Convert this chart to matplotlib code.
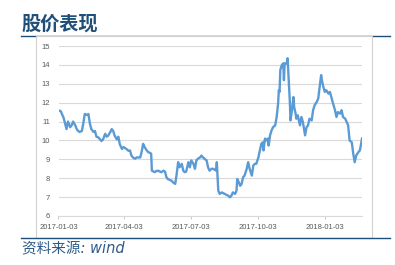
import matplotlib
matplotlib.use("Agg")
import matplotlib.pyplot as plt
import matplotlib.dates as mdates
import pandas as pd
from matplotlib.patches import Rectangle
from matplotlib.lines import Line2D

# ---- data ----
start_date = "2017-01-03"
day_offsets = [0, 3, 7, 9, 11, 13, 16, 18, 20, 23, 25, 27, 29, 32, 34, 36, 39, 41, 43, 45,
               48, 50, 52, 55, 57, 59, 61, 64, 66, 68, 71, 73, 75, 77, 80, 82, 84, 87, 89, 91,
               93, 96, 98, 100, 102, 105, 107, 109, 112, 114, 116, 118, 121, 123, 125, 127, 128, 132, 134, 137,
               139, 141, 144, 146, 148, 150, 153, 155, 157, 160, 162, 164, 166, 169, 171, 173, 175, 178, 180, 182,
               185, 187, 189, 191, 194, 196, 198, 201, 203, 205, 207, 210, 212, 214, 216, 217, 219, 221, 224, 226,
               228, 230, 233, 235, 237, 239, 242, 244, 245, 247, 249, 251, 253, 255, 258, 260, 262, 265, 267, 269,
               271, 274, 276, 278, 280, 281, 283, 285, 287, 288, 290, 292, 294, 297, 299, 301, 302, 303, 304, 306,
               308, 309, 310, 313, 314, 317, 318, 320, 322, 323, 325, 326, 328, 331, 333, 335, 338, 340, 342, 344,
               347, 349, 351, 354, 356, 358, 360, 361, 363, 365, 367, 370, 372, 374, 376, 379, 381, 383, 386, 388,
               390, 393, 395, 397, 399, 402, 404, 406, 408, 411, 413, 414, 416]
prices = [11.6, 11.55, 11.2, 10.9, 10.6, 11.0, 10.7, 10.8, 11.0, 10.8, 10.6, 10.5, 10.45, 10.5, 10.9, 11.4, 11.35, 11.4, 10.9, 10.6,
          10.45, 10.5, 10.2, 10.15, 10.05, 9.97, 10.05, 10.35, 10.2, 10.25, 10.45, 10.6, 10.5, 10.25, 10.05, 10.2, 9.8, 9.55, 9.65, 9.6,
          9.55, 9.45, 9.47, 9.2, 9.1, 9.03, 9.1, 9.1, 9.1, 9.4, 9.82, 9.65, 9.47, 9.38, 9.35, 9.3, 8.4, 8.32, 8.38, 8.4,
          8.35, 8.32, 8.4, 8.35, 8.05, 7.95, 7.9, 7.87, 7.78, 7.7, 8.23, 8.85, 8.58, 8.76, 8.4, 8.32, 8.35, 8.85, 8.58, 8.94,
          8.76, 8.5, 8.94, 9.03, 9.1, 9.2, 9.1, 9.0, 8.94, 8.58, 8.4, 8.5, 8.5, 8.45, 8.4, 8.85, 7.34, 7.17, 7.25, 7.2,
          7.17, 7.12, 7.07, 6.99, 7.07, 7.25, 7.17, 7.34, 7.96, 7.8, 7.6, 7.7, 8.05, 8.14, 8.5, 8.85, 8.5, 8.14, 8.67, 8.76,
          8.76, 9.1, 9.47, 9.82, 9.9, 9.47, 10.1, 10.0, 10.1, 9.73, 10.27, 10.53, 10.7, 10.8, 11.24, 11.95, 12.66, 12.57, 13.72, 13.99,
          14.08, 13.19, 14.08, 14.08, 14.35, 12.13, 11.06, 11.6, 12.3, 11.77, 11.42, 11.15, 11.33, 10.8, 11.24, 10.97, 10.27, 10.7, 10.8, 11.15,
          11.06, 11.6, 11.86, 12.04, 12.22, 12.84, 13.46, 13.19, 12.84, 12.57, 12.66, 12.48, 12.57, 12.3, 12.0, 11.6, 11.24, 11.5, 11.42, 11.6,
          11.24, 11.15, 10.97, 10.8, 10.0, 9.9, 9.3, 8.85, 9.2, 9.38, 9.47, 9.65, 10.1]
tick_dates = ["2017-01-03", "2017-04-03", "2017-07-03", "2017-10-03", "2018-01-03"]
y_ticks = [6, 7, 8, 9, 10, 11, 12, 13, 14, 15]
title_text = "股价表现"
source_text = "资料来源: wind"

dates = pd.Timestamp(start_date) + pd.to_timedelta(day_offsets, unit="D")

W, H = 395, 265
fig = plt.figure(figsize=(W / 100, H / 100), dpi=100)
fig.patch.set_facecolor("white")

dark = "#1F4E79"

# header / footer lines
fig.add_artist(Line2D([21 / W, 390 / W], [1 - 35.5 / H, 1 - 35.5 / H], color=dark, lw=1.0, zorder=-3))
fig.add_artist(Line2D([21 / W, 390 / W], [1 - 237.5 / H, 1 - 237.5 / H], color=dark, lw=1.0, zorder=-1))
# chart frame
fig.add_artist(Rectangle((36 / W, 1 - 237.5 / H), (372 - 36) / W, (237.5 - 36) / H,
                         facecolor="white", edgecolor="#D0D0D0", lw=0.8, zorder=-2))

fig.text(21 / W, 1 - 24 / H, title_text, family=["Noto Sans CJK SC", "DejaVu Sans"],
         fontsize=13.8, fontweight="bold", color=dark, va="center", ha="left")
fig.text(22 / W, 1 - 249 / H, source_text, family=["DejaVu Sans", "Noto Sans CJK SC"],
         fontsize=10.5, style="italic", color="#2E5C8A", va="center", ha="left")

ax = fig.add_axes([58.5 / W, 1 - 216 / H, (362 - 58.5) / W, (216 - 46) / H])
ax.set_facecolor("none")
ax.plot(dates, prices, color="#5B9BD5", lw=1.7, solid_joinstyle="round")
ax.set_ylim(6, 15)
ax.set_yticks(y_ticks)
ax.set_xlim(dates[0], dates[-1])
ax.set_xticks(pd.to_datetime(tick_dates))
ax.xaxis.set_major_formatter(mdates.DateFormatter("%Y-%m-%d"))
ax.grid(axis="y", color="#D9D9D9", lw=0.8)
ax.set_axisbelow(True)
for s in ["top", "right", "left"]:
    ax.spines[s].set_visible(False)
ax.spines["bottom"].set_color("#D9D9D9")
ax.spines["bottom"].set_linewidth(0.8)
ax.tick_params(axis="y", length=0, pad=6, labelsize=5.5, labelcolor="#595959")
ax.tick_params(axis="x", length=2.5, width=0.6, color="#BFBFBF", pad=3.5, labelsize=5.5, labelcolor="#595959")
for lab in ax.get_xticklabels() + ax.get_yticklabels():
    lab.set_family("Liberation Sans")

fig.savefig("out.png", dpi=100)
